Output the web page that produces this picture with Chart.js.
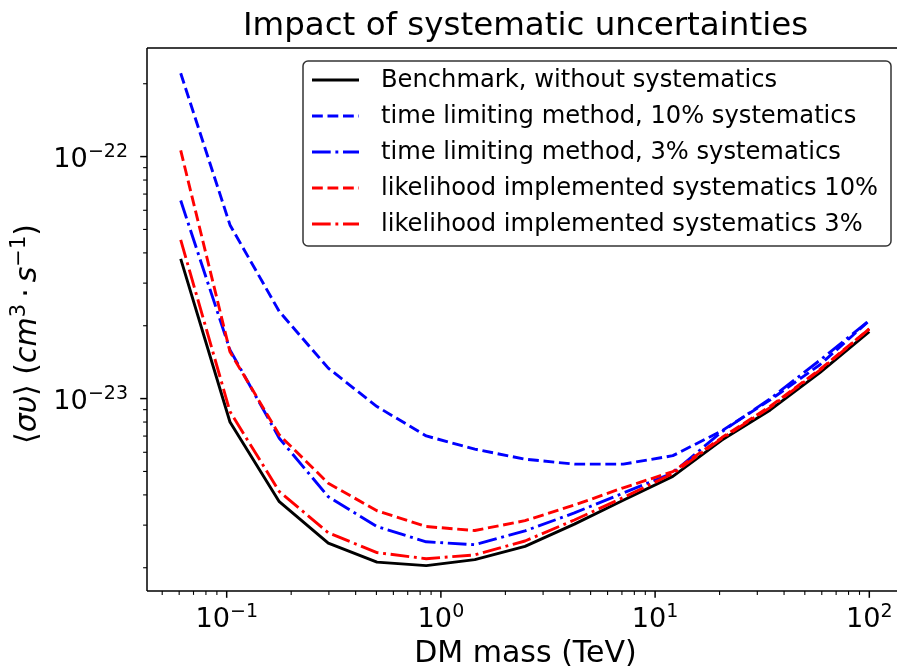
<!DOCTYPE html>
<html>
<head>
<meta charset="utf-8">
<script src="https://cdn.jsdelivr.net/npm/chart.js@4/dist/chart.umd.min.js"></script>
<style>
  html, body { margin: 0; padding: 0; background: #fff; overflow: hidden; }
  #wrap { width: 904px; height: 666px; }
</style>
</head>
<body>
<div id="wrap"><canvas id="limits" width="904" height="666"></canvas></div>
<script>
// DM mass grid (TeV) and the upper limits on <sigma v> (cm^3 s^-1)
const massTeV    = [0.061, 0.1036, 0.176, 0.298, 0.503, 0.854, 1.44, 2.47, 4.2, 7.1, 12.1, 20.5, 34.5, 58.8, 100];
const benchmark  = [3.78e-23, 8.0e-24, 3.75e-24, 2.53e-24, 2.11e-24, 2.04e-24, 2.16e-24, 2.45e-24, 3.03e-24, 3.8e-24, 4.77e-24, 6.74e-24, 8.98e-24, 1.28e-23, 1.89e-23];
const timeLim10  = [2.21e-22, 5.22e-23, 2.29e-23, 1.336e-23, 9.27e-24, 7.01e-24, 6.18e-24, 5.62e-24, 5.36e-24, 5.36e-24, 5.81e-24, 7.36e-24, 9.88e-24, 1.38e-23, 2.1e-23];
const timeLim3   = [6.58e-23, 1.59e-23, 6.86e-24, 3.93e-24, 2.96e-24, 2.56e-24, 2.49e-24, 2.84e-24, 3.37e-24, 4.07e-24, 4.93e-24, 7.3e-24, 1.0e-23, 1.44e-23, 2.1e-23];
const likeli10   = [1.06e-22, 1.56e-23, 7.08e-24, 4.47e-24, 3.44e-24, 2.96e-24, 2.85e-24, 3.13e-24, 3.63e-24, 4.28e-24, 4.99e-24, 6.9e-24, 9.3e-24, 1.32e-23, 1.94e-23];
const likeli3    = [4.53e-23, 8.84e-24, 4.13e-24, 2.79e-24, 2.31e-24, 2.18e-24, 2.26e-24, 2.58e-24, 3.15e-24, 3.9e-24, 4.9e-24, 6.85e-24, 9.2e-24, 1.31e-23, 1.94e-23];

const seriesLabels = [
  'Benchmark, without systematics',
  'time limiting method, 10% systematics',
  'time limiting method, 3% systematics',
  'likelihood implemented systematics 10%',
  'likelihood implemented systematics 3%'
];

// tick labels: base 10 with exponent
const xMajorTicks = [0.1, 1, 10, 100];
const xTickExps   = ['\u22121', '0', '1', '2'];
const yMajorTicks = [1e-23, 1e-22];
const yTickExps   = ['\u221223', '\u221222'];

const xRange = [0.04246, 145.2];
const yRange = [1.603e-24, 2.81e-22];

const FONT = "'DejaVu Sans', sans-serif";
const DASH = [10.8, 4.7];
const DASHDOT = [18.7, 4.7, 2.9, 4.7];

const styles = [
  { color: '#000000', dash: [] },
  { color: '#0000ff', dash: DASH },
  { color: '#0000ff', dash: DASHDOT },
  { color: '#ff0000', dash: DASH },
  { color: '#ff0000', dash: DASHDOT }
];
const allSeries = [benchmark, timeLim10, timeLim3, likeli10, likeli3];

// 1..9 x 10^n inside the axis range
function decadeTicks(min, max) {
  const ticks = [];
  for (let e = Math.floor(Math.log10(min)); e <= Math.ceil(Math.log10(max)); e++) {
    for (let m = 1; m <= 9; m++) {
      const v = m * Math.pow(10, e);
      if (v >= min && v <= max) ticks.push({ value: v, major: m === 1 });
    }
  }
  return ticks;
}

function drawPower(ctx, exp, x, baseline, align) {
  const size = 27.2, supSize = 19, raise = 10;
  ctx.font = size + 'px ' + FONT;
  const wb = ctx.measureText('10').width;
  ctx.font = supSize + 'px ' + FONT;
  const we = ctx.measureText(exp).width;
  const left = align === 'right' ? x - wb - we : x - (wb + we) / 2;
  ctx.textAlign = 'left';
  ctx.textBaseline = 'alphabetic';
  ctx.font = size + 'px ' + FONT;
  ctx.fillText('10', left, baseline);
  ctx.font = supSize + 'px ' + FONT;
  ctx.fillText(exp, left + wb, baseline - raise);
}

const framePlugin = {
  id: 'frame',
  afterDraw(chart) {
    const ctx = chart.ctx;
    const a = chart.chartArea;
    const xs = chart.scales.x, ys = chart.scales.y;
    ctx.save();
    ctx.strokeStyle = '#000';
    ctx.fillStyle = '#000';

    // spines
    ctx.lineWidth = 1.5;
    ctx.setLineDash([]);
    ctx.beginPath();
    ctx.moveTo(a.left, a.top); ctx.lineTo(a.right, a.top);
    ctx.moveTo(a.left, a.top); ctx.lineTo(a.left, a.bottom);
    ctx.moveTo(a.left, a.bottom); ctx.lineTo(a.right, a.bottom);
    ctx.moveTo(a.right, a.top); ctx.lineTo(a.right, a.bottom);
    ctx.stroke();

    // tick marks, outward
    xs.ticks.forEach(t => {
      const px = xs.getPixelForValue(t.value);
      const len = t.major ? 6.8 : 3.9;
      ctx.lineWidth = t.major ? 1.5 : 1.1;
      ctx.beginPath(); ctx.moveTo(px, a.bottom); ctx.lineTo(px, a.bottom + len); ctx.stroke();
    });
    ys.ticks.forEach(t => {
      const py = ys.getPixelForValue(t.value);
      const len = t.major ? 6.8 : 3.9;
      ctx.lineWidth = t.major ? 1.5 : 1.1;
      ctx.beginPath(); ctx.moveTo(a.left, py); ctx.lineTo(a.left - len, py); ctx.stroke();
    });

    // tick labels
    xMajorTicks.forEach((v, i) => {
      drawPower(ctx, xTickExps[i], xs.getPixelForValue(v), a.bottom + 36, 'center');
    });
    yMajorTicks.forEach((v, i) => {
      drawPower(ctx, yTickExps[i], a.left - 19, ys.getPixelForValue(v) + 10, 'right');
    });

    // title
    ctx.font = '32.5px ' + FONT;
    ctx.textAlign = 'center';
    ctx.textBaseline = 'alphabetic';
    ctx.fillText('Impact of systematic uncertainties', (a.left + a.right) / 2, 35);

    // x label
    ctx.font = '30px ' + FONT;
    ctx.fillText('DM mass (TeV)', (a.left + a.right) / 2, 662);

    // y label, rotated, with italic symbols and superscripts
    const parts = [
      { t: '\u27E8' }, { t: '\u03C3\u03C5', it: true }, { t: '\u27E9' }, { t: ' (' },
      { t: 'cm', it: true }, { t: '3', sup: true }, { t: '\u2009\u00B7\u2009' }, { t: 's', it: true },
      { t: '\u22121', sup: true }, { t: ')' }
    ];
    const fontOf = p => (p.it ? 'italic ' : '') + (p.sup ? 21 : 30) + 'px ' + FONT;
    let total = 0;
    parts.forEach(p => { ctx.font = fontOf(p); p.w = ctx.measureText(p.t).width; total += p.w; });
    ctx.translate(36, 334);
    ctx.rotate(-Math.PI / 2);
    ctx.textAlign = 'left';
    let cx = -total / 2;
    parts.forEach(p => {
      ctx.font = fontOf(p);
      ctx.fillText(p.t, cx, p.sup ? -11 : 0);
      cx += p.w;
    });
    ctx.restore();

    // legend
    ctx.save();
    const lx = 303, ly = 61, lw = 588, lh = 185, r = 5;
    ctx.beginPath();
    ctx.roundRect(lx, ly, lw, lh, r);
    ctx.fillStyle = 'rgba(255,255,255,0.8)';
    ctx.fill();
    ctx.lineWidth = 1.5;
    ctx.strokeStyle = 'rgba(0,0,0,0.8)';
    ctx.stroke();
    ctx.font = '24.2px ' + FONT;
    ctx.textAlign = 'left';
    ctx.textBaseline = 'middle';
    seriesLabels.forEach((lab, i) => {
      const y = 80 + i * 36;
      ctx.strokeStyle = styles[i].color;
      ctx.lineWidth = 2.9;
      ctx.setLineDash(styles[i].dash);
      ctx.lineCap = 'butt';
      ctx.beginPath(); ctx.moveTo(312, y); ctx.lineTo(359, y); ctx.stroke();
      ctx.fillStyle = '#000';
      ctx.fillText(lab, 381, y + 1);
    });
    ctx.restore();
  }
};

const datasets = allSeries.map((vals, i) => ({
  label: seriesLabels[i],
  data: massTeV.map((m, k) => ({ x: m, y: vals[k] })),
  borderColor: styles[i].color,
  borderDash: styles[i].dash,
  borderWidth: 2.9,
  borderCapStyle: 'butt',
  borderJoinStyle: 'round',
  pointRadius: 0,
  fill: false,
  tension: 0,
  order: allSeries.length - i
}));

new Chart(document.getElementById('limits').getContext('2d'), {
  type: 'line',
  data: { datasets },
  options: {
    responsive: false,
    animation: false,
    events: [],
    layout: { padding: { top: 48, left: 0, right: 0, bottom: 0 } },
    plugins: {
      legend: { display: false },
      tooltip: { enabled: false },
      title: { display: false }
    },
    scales: {
      x: {
        type: 'logarithmic',
        min: xRange[0],
        max: xRange[1],
        grid: { display: false },
        border: { display: false },
        ticks: { display: false },
        afterBuildTicks: s => { s.ticks = decadeTicks(s.min, s.max); },
        afterFit: s => { s.height = 75; }
      },
      y: {
        type: 'logarithmic',
        min: yRange[0],
        max: yRange[1],
        grid: { display: false },
        border: { display: false },
        ticks: { display: false },
        afterBuildTicks: s => { s.ticks = decadeTicks(s.min, s.max); },
        afterFit: s => { s.width = 147; }
      }
    }
  },
  plugins: [framePlugin]
});
</script>
</body>
</html>
